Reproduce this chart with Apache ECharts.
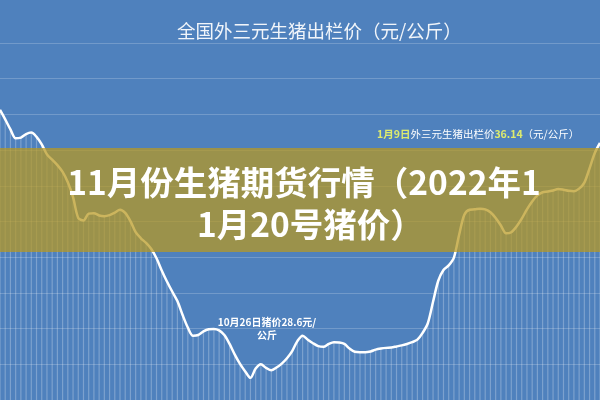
<!DOCTYPE html>
<html>
<head>
<meta charset="utf-8">
<script src="https://cdn.jsdelivr.net/npm/echarts@6/dist/echarts.min.js"></script>
<style>
html,body{margin:0;padding:0;background:#4F81BD;}
#chart{width:600px;height:400px;}
</style>
</head>
<body>
<div id="chart"></div>
<script>
// 全国外三元生猪出栏价（元/公斤）— values
const prices = [
  36.13, 35.86, 35.58, 35.33, 35.35, 35.45, 35.49, 35.37, 35.16, 34.88,
  34.73, 34.58, 34.39, 34.10, 33.68, 33.10, 33.03, 33.22, 33.23, 33.17,
  33.15, 33.18, 33.25, 33.33, 33.24, 33.01, 32.70, 32.53, 32.40, 32.23,
  31.97, 31.63, 31.32, 31.04, 30.77, 30.38, 30.03, 29.80, 29.82, 29.92,
  29.98, 29.99, 29.95, 29.82, 29.57, 29.27, 29.01, 28.80, 28.62, 28.88,
  29.00, 28.90, 28.83, 28.91, 29.02, 29.17, 29.37, 29.65, 29.80, 29.69,
  29.59, 29.51, 29.49, 29.57, 29.62, 29.61, 29.57, 29.44, 29.35, 29.34,
  29.34, 29.36, 29.41, 29.44, 29.46, 29.47, 29.50, 29.53, 29.57, 29.62,
  29.69, 29.88, 30.15, 30.75, 31.34, 31.64, 31.77, 31.99, 32.63, 33.19,
  33.33, 33.34, 33.36, 33.34, 33.26, 33.10, 32.89, 32.67, 32.70, 32.86,
  33.08, 33.34, 33.56, 33.73, 33.82, 33.84, 33.87, 33.91, 33.89, 33.86,
  33.85, 33.92, 34.09, 34.49, 34.92, 35.20
];
const categories = prices.map((_, i) => String(i + 1));
const yMin = 28, yMax = 38, yStep = 1;

const chartTitle = '全国外三元生猪出栏价（元/公斤）';
const headline1 = '11月份生猪期货行情（2022年1';
const headline2 = '1月20号猪价）';
const noteTopDate = '1月9日', noteTopMid = '外三元生猪出栏价', noteTopVal = '36.14', noteTopUnit = '（元/公斤）';
const noteLow = '10月26日猪价28.6元/\n公斤';

const chart = echarts.init(document.getElementById('chart'));
chart.setOption({
  backgroundColor: '#4F81BD',
  animation: false,
  grid: { left: 0, right: 0, top: 43, height: 375, containLabel: false },
  xAxis: {
    type: 'category', data: categories, boundaryGap: false,
    axisLine: { show: false }, axisTick: { show: false }, axisLabel: { show: false },
    splitLine: { show: false }
  },
  yAxis: {
    type: 'value', min: yMin, max: yMax, interval: yStep,
    axisLine: { show: false }, axisTick: { show: false }, axisLabel: { show: false },
    splitLine: { lineStyle: { color: 'rgba(255,255,255,0.2)', width: 1.2 } }
  },
  series: [
    {
      type: 'bar', data: prices, barWidth: 1.2, silent: true, z: 1,
      itemStyle: { color: 'rgba(255,255,255,0.26)' }
    },
    {
      type: 'line', data: prices, smooth: 0.3, showSymbol: false, z: 3,
      lineStyle: { color: '#ffffff', width: 2.5 }
    }
  ],
  graphic: [
    {
      type: 'text', left: 177, top: 22, z: 10,
      style: { text: chartTitle, fill: 'rgba(255,255,255,0.92)', font: '18.5px "Noto Sans CJK SC"' }
    },
    {
      type: 'text', left: 377, top: 129, z: 10,
      style: {
        text: '{a|' + noteTopDate + '}{b|' + noteTopMid + '}{a|' + noteTopVal + '}{b|' + noteTopUnit + '}',
        rich: {
          a: { fill: '#DDEB6E', font: 'bold 10.5px "Noto Sans CJK SC"' },
          b: { fill: '#ffffff', font: '10.5px "Noto Sans CJK SC"' }
        }
      }
    },
    {
      type: 'text', x: 267, y: 316, z: 10,
      style: {
        text: noteLow, fill: '#ffffff', align: 'center', lineHeight: 13,
        font: 'bold 10px "Noto Sans CJK SC"'
      }
    },
    {
      type: 'rect', shape: { x: 0, y: 148, width: 600, height: 104 }, z: 20,
      style: { fill: 'rgba(185,153,31,0.72)' }
    },
    {
      type: 'text', x: 304, y: 182, z: 30,
      style: {
        text: headline1, fill: '#ffffff', align: 'center', verticalAlign: 'middle',
        font: 'bold 33.5px "Noto Sans CJK SC"'
      }
    },
    {
      type: 'text', x: 197, y: 224, z: 30,
      style: {
        text: headline2, fill: '#ffffff', align: 'left', verticalAlign: 'middle',
        font: 'bold 33.5px "Noto Sans CJK SC"'
      }
    }
  ]
});
</script>
</body>
</html>
